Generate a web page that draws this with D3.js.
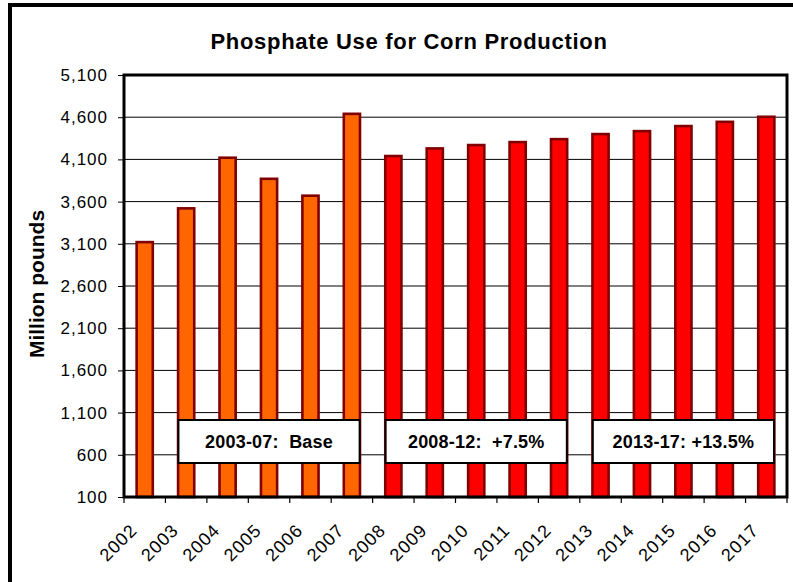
<!DOCTYPE html>
<html>
<head>
<meta charset="utf-8">
<script src="https://cdn.jsdelivr.net/npm/d3@7"></script>
<style>
  html, body { margin: 0; padding: 0; background: #fff; }
  svg { display: block; }
  text { font-family: "Liberation Sans", Arial, sans-serif; fill: #000; }
</style>
</head>
<body>
<svg id="chart" width="793" height="582"></svg>
<script>
// Phosphate use for corn production, million pounds
const years = ["2002","2003","2004","2005","2006","2007","2008","2009",
               "2010","2011","2012","2013","2014","2015","2016","2017"];
const phosphate = [3120, 3520, 4120, 3870, 3670, 4640, 4140, 4230,
                   4270, 4305, 4340, 4400, 4435, 4495, 4545, 4605];
const historicalYears = ["2002","2003","2004","2005","2006","2007"];
const yTicks = [100, 600, 1100, 1600, 2100, 2600, 3100, 3600, 4100, 4600, 5100];

// Period summaries: first year, last year, label
const periodStart = ["2003", "2008", "2013"];
const periodEnd   = ["2007", "2012", "2017"];
const periodLabel = ["2003-07:  Base", "2008-12:  +7.5%", "2013-17: +13.5%"];

const titleText = "Phosphate Use for Corn Production";
const yTitle = "Million pounds";

const svg = d3.select("#chart");
const plot = { left: 124, right: 787, top: 75, bottom: 497 };

// Outer frame
svg.append("rect")
  .attr("x", 10).attr("y", 5)
  .attr("width", 820).attr("height", 620)
  .attr("fill", "#fff").attr("stroke", "#000").attr("stroke-width", 4);

const x = d3.scaleBand()
  .domain(years)
  .range([plot.left, plot.right])
  .paddingInner(0.61)
  .paddingOuter(0.305);

const y = d3.scaleLinear()
  .domain([100, 5100])
  .range([plot.bottom, plot.top]);

// Gridlines
svg.append("g")
  .selectAll("line")
  .data(yTicks)
  .join("line")
  .attr("x1", plot.left).attr("x2", plot.right)
  .attr("y1", d => y(d)).attr("y2", d => y(d))
  .attr("stroke", "#000").attr("stroke-width", 1);

// Bars
svg.append("g")
  .selectAll("rect")
  .data(years.map((yr, i) => ({ yr, v: phosphate[i] })))
  .join("rect")
  .attr("x", d => x(d.yr))
  .attr("y", d => y(d.v))
  .attr("width", x.bandwidth())
  .attr("height", d => y(100) - y(d.v))
  .attr("fill", d => historicalYears.includes(d.yr) ? "#FF6600" : "#FF0000")
  .attr("stroke", "#800000")
  .attr("stroke-width", 2.6);

// Plot area border
svg.append("rect")
  .attr("x", plot.left).attr("y", plot.top)
  .attr("width", plot.right - plot.left).attr("height", plot.bottom - plot.top)
  .attr("fill", "none").attr("stroke", "#000").attr("stroke-width", 3);

// Y axis
const yAxis = svg.append("g")
  .attr("transform", `translate(${plot.left},0)`)
  .call(d3.axisLeft(y).tickValues(yTicks).tickFormat(d3.format(",")).tickSize(6).tickPadding(10));
yAxis.select(".domain").remove();
yAxis.selectAll(".tick line").attr("stroke", "#000").attr("stroke-width", 1);
yAxis.selectAll(".tick text")
  .style("font-size", "17px")
  .style("letter-spacing", "1px")
  .attr("fill", "#000");

// X axis: ticks at category boundaries
const step = x.step();
const half = x.paddingInner() * step / 2;
const boundaries = years.map(yr => x(yr) - half).concat([plot.right]);
svg.append("g")
  .selectAll("line")
  .data(boundaries)
  .join("line")
  .attr("x1", d => d).attr("x2", d => d)
  .attr("y1", plot.bottom).attr("y2", plot.bottom + 6)
  .attr("stroke", "#000").attr("stroke-width", 1.2);

svg.append("g")
  .selectAll("text")
  .data(years)
  .join("text")
  .attr("transform", d => `translate(${x(d) + x.bandwidth() / 2 - 11},527) rotate(-45)`)
  .attr("text-anchor", "end")
  .attr("dy", "0.35em")
  .style("font-size", "18px")
  .style("letter-spacing", "1px")
  .text(d => d);

// Period summary boxes
const inset = 13;
const boxTop = 420, boxH = 43;
const boxes = svg.append("g")
  .selectAll("g")
  .data(periodLabel.map((lab, i) => ({
    lab,
    x0: x(periodStart[i]) - half,
    x1: x(periodEnd[i]) + x.bandwidth() + half
  })))
  .join("g");
boxes.append("rect")
  .attr("x", d => d.x0 + inset)
  .attr("y", boxTop)
  .attr("width", d => d.x1 - d.x0 - 2 * inset)
  .attr("height", boxH)
  .attr("fill", "#fff").attr("stroke", "#000").attr("stroke-width", 2);
boxes.append("text")
  .attr("x", d => (d.x0 + d.x1) / 2)
  .attr("y", boxTop + boxH / 2 + 6.5)
  .attr("text-anchor", "middle")
  .style("font-size", "18px")
  .style("font-weight", "bold")
  .style("letter-spacing", "0.2px")
  .style("white-space", "pre")
  .attr("xml:space", "preserve")
  .text(d => d.lab);

// Title
svg.append("text")
  .attr("x", 409).attr("y", 49)
  .attr("text-anchor", "middle")
  .style("font-size", "22px")
  .style("font-weight", "bold")
  .style("letter-spacing", "0.7px")
  .text(titleText);

// Y axis title
svg.append("text")
  .attr("transform", "translate(43.5,284) rotate(-90)")
  .attr("text-anchor", "middle")
  .style("font-size", "21px")
  .style("font-weight", "bold")
  .text(yTitle);
</script>
</body>
</html>
